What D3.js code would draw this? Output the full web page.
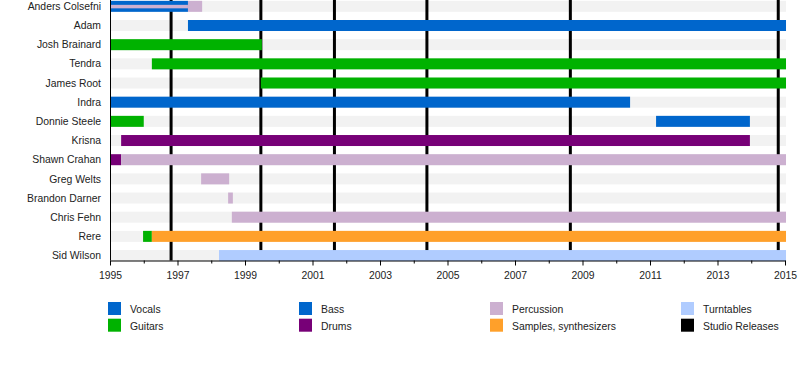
<!DOCTYPE html>
<html>
<head>
<meta charset="utf-8">
<script src="https://cdn.jsdelivr.net/npm/d3@7"></script>
<style>
  body { margin: 0; background: #fff; }
  svg { display: block; font-family: "Liberation Sans", Arial, sans-serif; }
  .name { font-size: 10.4px; fill: #222; }
  .axis text { font-size: 10.4px; fill: #222; }
  .legend text { font-size: 10.4px; fill: #222; }
</style>
</head>
<body>
<div id="chart"></div>
<script>
// members, top to bottom
const members = ['Anders Colsefni', 'Adam', 'Josh Brainard', 'Tendra', 'James Root', 'Indra',
  'Donnie Steele', 'Krisna', 'Shawn Crahan', 'Greg Welts', 'Brandon Darner', 'Chris Fehn', 'Rere', 'Sid Wilson'];

// roles and their colours (legend order)
const roles = ['Vocals', 'Guitars', 'Bass', 'Drums', 'Percussion', 'Samples, synthesizers', 'Turntables', 'Studio Releases'];
const roleColors = ['#0066cc', '#00b200', '#0066cc', '#770077', '#ccb0d0', '#ffa02a', '#b0ccff', '#000000'];

// periods: [member, role, from, till]
const periods = [
  ['Anders Colsefni', 'Vocals', 1995, 1997.31],
  ['Anders Colsefni', 'Percussion', 1997.31, 1997.73],
  ['Adam', 'Bass', 1997.31, 2015.03],
  ['Josh Brainard', 'Guitars', 1995, 1999.5],
  ['Tendra', 'Guitars', 1996.24, 2015.03],
  ['James Root', 'Guitars', 1999.47, 2015.03],
  ['Indra', 'Vocals', 1995, 2010.41],
  ['Donnie Steele', 'Guitars', 1995, 1996.0],
  ['Donnie Steele', 'Bass', 2011.18, 2013.96],
  ['Krisna', 'Drums', 1995.33, 2013.96],
  ['Shawn Crahan', 'Drums', 1995, 1995.33],
  ['Shawn Crahan', 'Percussion', 1995.33, 2015.03],
  ['Greg Welts', 'Percussion', 1997.7, 1998.53],
  ['Brandon Darner', 'Percussion', 1998.5, 1998.64],
  ['Chris Fehn', 'Percussion', 1998.61, 2015.03],
  ['Rere', 'Guitars', 1995.98, 1996.24],
  ['Rere', 'Samples, synthesizers', 1996.24, 2015.03],
  ['Sid Wilson', 'Turntables', 1998.23, 2015.03]
];

// thin secondary stripes: [member, role, from, till]
const stripes = [
  ['Anders Colsefni', 'Percussion', 1995, 1997.31]
];

// studio release dates
const releases = [1996.81, 1999.47, 2001.65, 2004.39, 2008.64, 2014.8];

const majorTicks = [1995, 1997, 1999, 2001, 2003, 2005, 2007, 2009, 2011, 2013, 2015];
const minorTicks = [1996, 1998, 2000, 2002, 2004, 2006, 2008, 2010, 2012, 2014];

const width = 800, height = 380;
const left = 110, right = 785, axisY = 260.5;
const barH = 11;

const svg = d3.select('#chart').append('svg')
  .attr('width', width)
  .attr('height', height);

const x = d3.scaleLinear().domain([1995, 2015]).range([left, right]);
const y = d3.scaleBand().domain(members).range([-3.25, 265.13]);
const color = d3.scaleOrdinal().domain(roles).range(roleColors);

const rowTop = d => y(d) + y.bandwidth() / 2 - barH / 2;

// grey background rows
svg.append('g').selectAll('rect')
  .data(members)
  .join('rect')
  .attr('x', x(1995))
  .attr('y', d => rowTop(d))
  .attr('width', x(2015.03) - x(1995))
  .attr('height', barH)
  .attr('fill', '#f2f2f2');

// release lines
svg.append('g').selectAll('line')
  .data(releases)
  .join('line')
  .attr('x1', d => x(d)).attr('x2', d => x(d))
  .attr('y1', 0).attr('y2', axisY)
  .attr('stroke', '#000')
  .attr('stroke-width', 3);

// member bars
svg.append('g').selectAll('rect')
  .data(periods)
  .join('rect')
  .attr('x', d => x(d[2]))
  .attr('y', d => rowTop(d[0]))
  .attr('width', d => x(d[3]) - x(d[2]))
  .attr('height', barH)
  .attr('fill', d => color(d[1]));

svg.append('g').selectAll('rect')
  .data(stripes)
  .join('rect')
  .attr('x', d => x(d[2]))
  .attr('y', d => rowTop(d[0]) + 4)
  .attr('width', d => x(d[3]) - x(d[2]))
  .attr('height', 3.5)
  .attr('fill', d => color(d[1]));

// names
svg.append('g').selectAll('text')
  .data(members)
  .join('text')
  .attr('class', 'name')
  .attr('x', 101)
  .attr('y', d => y(d) + y.bandwidth() / 2)
  .attr('dy', '0.35em')
  .attr('text-anchor', 'end')
  .text(d => d);

// left axis line
svg.append('line')
  .attr('x1', left + 0.5).attr('x2', left + 0.5)
  .attr('y1', 0).attr('y2', axisY)
  .attr('stroke', '#000');

// time axis
svg.append('g')
  .attr('class', 'axis')
  .attr('transform', `translate(0,${axisY})`)
  .call(d3.axisBottom(x).tickValues(majorTicks).tickFormat(d3.format('d'))
    .tickSize(5).tickSizeOuter(0).tickPadding(6));

svg.append('g')
  .attr('transform', `translate(0,${axisY})`)
  .call(d3.axisBottom(x).tickValues(minorTicks).tickFormat('').tickSize(3).tickSizeOuter(0))
  .call(g => g.select('.domain').remove());

// legend
const legend = svg.append('g').attr('class', 'legend');
const item = legend.selectAll('g')
  .data(roles)
  .join('g')
  .attr('transform', (d, i) => `translate(${108 + Math.floor(i / 2) * 191},${302 + (i % 2) * 16.7})`);

item.append('rect')
  .attr('width', 13)
  .attr('height', 13)
  .attr('fill', d => color(d));

item.append('text')
  .attr('x', 22)
  .attr('y', 11)
  .text(d => d);
</script>
</body>
</html>
